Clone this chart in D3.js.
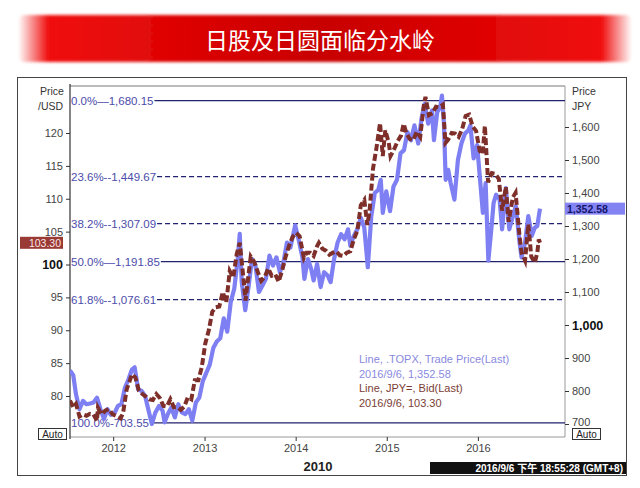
<!DOCTYPE html>
<html>
<head>
<meta charset="utf-8">
<script src="https://cdn.jsdelivr.net/npm/d3@7"></script>
<style>
  body { margin: 0; background: #fff; }
  svg { display: block; font-family: "Liberation Sans", Arial, sans-serif; }
</style>
</head>
<body>
<svg width="640" height="488"></svg>
<script>
const titleText = "日股及日圆面临分水岭";

// TOPIX (right axis, JPY)
const topix = [
  ["2011-07-12", 862], ["2011-07-25", 848], ["2011-08-05", 790], ["2011-08-19", 745],
  ["2011-09-02", 770], ["2011-09-16", 760], ["2011-09-30", 762], ["2011-10-14", 765],
  ["2011-10-28", 780], ["2011-11-11", 745], ["2011-11-25", 715], ["2011-12-09", 745],
  ["2011-12-22", 728], ["2012-01-06", 732], ["2012-01-20", 755], ["2012-02-03", 760],
  ["2012-02-17", 810], ["2012-03-02", 835], ["2012-03-16", 865], ["2012-03-27", 872],
  ["2012-04-10", 805], ["2012-04-24", 800], ["2012-05-08", 785], ["2012-05-22", 740],
  ["2012-06-04", 700], ["2012-06-18", 735], ["2012-07-03", 755], ["2012-07-17", 740],
  ["2012-07-25", 705], ["2012-08-07", 730], ["2012-08-21", 750], ["2012-09-04", 720],
  ["2012-09-18", 760], ["2012-10-02", 735], ["2012-10-16", 730], ["2012-10-30", 745],
  ["2012-11-13", 710], ["2012-11-27", 765], ["2012-12-11", 780], ["2012-12-25", 830],
  ["2013-01-08", 855], ["2013-01-22", 880], ["2013-02-05", 930], ["2013-02-19", 950],
  ["2013-03-05", 960], ["2013-03-19", 1020], ["2013-04-02", 980], ["2013-04-16", 1070],
  ["2013-04-30", 1110], ["2013-05-14", 1200], ["2013-05-22", 1276], ["2013-05-30", 1130],
  ["2013-06-13", 1045], ["2013-06-27", 1120], ["2013-07-10", 1200], ["2013-07-24", 1180],
  ["2013-08-07", 1100], ["2013-08-21", 1120], ["2013-09-04", 1140], ["2013-09-18", 1210],
  ["2013-10-02", 1180], ["2013-10-16", 1205], ["2013-10-30", 1160], ["2013-11-13", 1190],
  ["2013-11-27", 1250], ["2013-12-11", 1235], ["2013-12-30", 1302], ["2014-01-14", 1255],
  ["2014-01-28", 1205], ["2014-02-05", 1140], ["2014-02-19", 1200], ["2014-03-04", 1170],
  ["2014-03-14", 1135], ["2014-03-28", 1185], ["2014-04-11", 1115], ["2014-04-25", 1160],
  ["2014-05-09", 1150], ["2014-05-21", 1130], ["2014-06-04", 1200], ["2014-06-18", 1250],
  ["2014-07-02", 1275], ["2014-07-16", 1260], ["2014-07-30", 1290], ["2014-08-08", 1240],
  ["2014-08-22", 1270], ["2014-09-05", 1290], ["2014-09-19", 1325], ["2014-10-03", 1295],
  ["2014-10-17", 1175], ["2014-10-31", 1330], ["2014-11-14", 1400], ["2014-11-28", 1410],
  ["2014-12-08", 1440], ["2014-12-16", 1340], ["2014-12-30", 1405], ["2015-01-14", 1345],
  ["2015-01-28", 1420], ["2015-02-11", 1440], ["2015-02-25", 1520], ["2015-03-11", 1530],
  ["2015-03-25", 1585], ["2015-04-08", 1560], ["2015-04-22", 1605], ["2015-05-07", 1550],
  ["2015-05-21", 1630], ["2015-06-02", 1670], ["2015-06-16", 1610], ["2015-07-01", 1650],
  ["2015-07-09", 1560], ["2015-07-22", 1645], ["2015-08-03", 1660], ["2015-08-10", 1695],
  ["2015-08-18", 1610], ["2015-08-25", 1440], ["2015-09-04", 1470], ["2015-09-14", 1430],
  ["2015-09-29", 1380], ["2015-10-13", 1500], ["2015-10-27", 1550], ["2015-11-10", 1580],
  ["2015-11-24", 1590], ["2015-12-02", 1605], ["2015-12-15", 1505], ["2015-12-29", 1545],
  ["2016-01-12", 1420], ["2016-01-21", 1340], ["2016-02-01", 1430], ["2016-02-12", 1195],
  ["2016-02-25", 1300], ["2016-03-04", 1370], ["2016-03-14", 1395], ["2016-03-28", 1380],
  ["2016-04-07", 1290], ["2016-04-22", 1415], ["2016-05-06", 1290], ["2016-05-20", 1330],
  ["2016-06-01", 1360], ["2016-06-16", 1250], ["2016-06-24", 1205], ["2016-07-08", 1250],
  ["2016-07-21", 1330], ["2016-08-04", 1270], ["2016-08-16", 1295], ["2016-08-26", 1300],
  ["2016-09-02", 1335], ["2016-09-06", 1352.58]
];

// USD/JPY (left axis)
const usdjpy = [
  ["2011-07-12", 79.3], ["2011-07-25", 78.3], ["2011-08-05", 78.8], ["2011-08-19", 76.9],
  ["2011-09-02", 77.2], ["2011-09-16", 77.0], ["2011-09-30", 77.3], ["2011-10-14", 77.2],
  ["2011-10-28", 76.2], ["2011-11-01", 78.2], ["2011-11-15", 77.2], ["2011-12-01", 77.8],
  ["2011-12-15", 78.0], ["2011-12-30", 77.2], ["2012-01-13", 77.0], ["2012-01-31", 76.6],
  ["2012-02-10", 77.5], ["2012-02-24", 81.0], ["2012-03-09", 82.5], ["2012-03-16", 83.3],
  ["2012-03-30", 82.8], ["2012-04-13", 80.8], ["2012-04-27", 80.3], ["2012-05-11", 79.9],
  ["2012-05-25", 79.5], ["2012-06-08", 79.4], ["2012-06-22", 80.3], ["2012-07-06", 79.7],
  ["2012-07-20", 78.5], ["2012-08-03", 78.4], ["2012-08-17", 79.5], ["2012-08-31", 78.3],
  ["2012-09-14", 78.3], ["2012-09-28", 77.9], ["2012-10-12", 78.4], ["2012-10-26", 79.8],
  ["2012-11-09", 79.5], ["2012-11-23", 82.4], ["2012-12-07", 82.4], ["2012-12-21", 84.4],
  ["2013-01-04", 88.0], ["2013-01-18", 90.0], ["2013-02-01", 92.8], ["2013-02-15", 93.5],
  ["2013-03-01", 93.6], ["2013-03-15", 95.8], ["2013-03-29", 94.2], ["2013-04-12", 99.0],
  ["2013-04-26", 98.0], ["2013-05-10", 101.6], ["2013-05-22", 103.3], ["2013-06-07", 97.5],
  ["2013-06-14", 94.5], ["2013-06-28", 99.0], ["2013-07-05", 101.2], ["2013-07-19", 100.4],
  ["2013-08-02", 98.9], ["2013-08-16", 97.5], ["2013-08-30", 98.1], ["2013-09-13", 99.4],
  ["2013-09-27", 98.3], ["2013-10-11", 98.5], ["2013-10-25", 97.4], ["2013-11-08", 99.1],
  ["2013-11-22", 101.2], ["2013-12-06", 102.9], ["2013-12-20", 104.2], ["2014-01-03", 104.8],
  ["2014-01-17", 104.3], ["2014-02-03", 101.0], ["2014-02-14", 101.8], ["2014-02-28", 101.8],
  ["2014-03-14", 101.3], ["2014-03-28", 102.8], ["2014-04-04", 103.3], ["2014-04-18", 102.4],
  ["2014-05-02", 102.1], ["2014-05-16", 101.5], ["2014-05-30", 101.8], ["2014-06-13", 102.0],
  ["2014-06-27", 101.4], ["2014-07-11", 101.3], ["2014-07-25", 101.8], ["2014-08-08", 102.0],
  ["2014-08-22", 103.8], ["2014-09-05", 105.1], ["2014-09-19", 109.0], ["2014-10-03", 109.8],
  ["2014-10-15", 106.0], ["2014-10-24", 108.1], ["2014-11-07", 114.6], ["2014-11-21", 117.8],
  ["2014-12-05", 121.5], ["2014-12-16", 116.5], ["2014-12-26", 120.4], ["2015-01-09", 118.5],
  ["2015-01-16", 116.5], ["2015-01-30", 117.5], ["2015-02-13", 118.7], ["2015-02-27", 119.6],
  ["2015-03-10", 121.4], ["2015-03-20", 120.0], ["2015-04-03", 119.1], ["2015-04-17", 118.9],
  ["2015-05-01", 120.2], ["2015-05-15", 119.4], ["2015-05-29", 124.1], ["2015-06-05", 125.5],
  ["2015-06-19", 122.7], ["2015-07-03", 123.0], ["2015-07-17", 124.0], ["2015-07-31", 123.9],
  ["2015-08-14", 124.3], ["2015-08-24", 118.5], ["2015-09-04", 119.0], ["2015-09-18", 120.0],
  ["2015-10-02", 119.9], ["2015-10-16", 119.4], ["2015-10-30", 120.6], ["2015-11-13", 122.6],
  ["2015-11-27", 122.8], ["2015-12-11", 121.0], ["2015-12-25", 120.3], ["2016-01-08", 117.3],
  ["2016-01-20", 116.8], ["2016-01-29", 121.1], ["2016-02-11", 112.5], ["2016-02-26", 113.9],
  ["2016-03-11", 113.8], ["2016-03-25", 113.0], ["2016-04-07", 108.2], ["2016-04-22", 111.8],
  ["2016-05-03", 106.5], ["2016-05-20", 110.2], ["2016-05-31", 110.9], ["2016-06-16", 104.3],
  ["2016-06-24", 101.8], ["2016-07-08", 100.6], ["2016-07-21", 106.1], ["2016-08-02", 101.2],
  ["2016-08-16", 100.3], ["2016-08-26", 101.8], ["2016-09-01", 103.8], ["2016-09-06", 103.3]
];

// Fibonacci retracement levels (right axis)
const fibPct = ["0.0%", "23.6%", "38.2%", "50.0%", "61.8%", "100.0%"];
const fibValues = [1680.15, 1449.67, 1307.09, 1191.85, 1076.61, 703.55];
const fibSep = ["—", "--", "--", "—", "--", "-"];
const fibDashed = [false, true, true, false, true, false];

const leftTicks = [80, 85, 90, 95, 100, 105, 110, 115, 120];
const rightTicks = [700, 800, 900, 1000, 1100, 1200, 1300, 1400, 1500, 1600];
const yearTicks = ["2012", "2013", "2014", "2015", "2016"];

const legendLines = [
  "Line, .TOPX, Trade Price(Last)",
  "2016/9/6, 1,352.58",
  "Line, JPY=, Bid(Last)",
  "2016/9/6, 103.30"
];
const lastTopix = "1,352.58";
const lastUsd = "103.30";
const stamp = "2016/9/6 下午 18:55:28 (GMT+8)";

const svg = d3.select("svg");
const parse = d3.timeParse("%Y-%m-%d");

const blue = "#7e7ff2", red = "#7e2f2a", navy = "#22226e", fibText = "#4c4caa";

// title bar
const defs = svg.append("defs");
const grad = defs.append("linearGradient").attr("id", "bar");
grad.append("stop").attr("offset", "0%").attr("stop-color", "#fff");
grad.append("stop").attr("offset", "5%").attr("stop-color", "#f00a0a");
grad.append("stop").attr("offset", "50%").attr("stop-color", "#c80000");
grad.append("stop").attr("offset", "95%").attr("stop-color", "#f00a0a");
grad.append("stop").attr("offset", "100%").attr("stop-color", "#fff");
defs.append("filter").attr("id", "soft")
  .append("feGaussianBlur").attr("stdDeviation", 1.5);

svg.append("rect")
  .attr("x", 18).attr("y", 15).attr("width", 614).attr("height", 47)
  .attr("rx", 6).attr("fill", "url(#bar)").attr("filter", "url(#soft)");

svg.append("text")
  .attr("x", 320).attr("y", 39)
  .attr("text-anchor", "middle").attr("dominant-baseline", "central")
  .style("font-family", "'Noto Sans CJK SC', sans-serif")
  .style("font-size", "23px").attr("fill", "#fff")
  .text(titleText);

// chart frame
svg.append("rect")
  .attr("x", 17.5).attr("y", 77.5).attr("width", 609).attr("height", 398)
  .attr("fill", "#fff").attr("stroke", "#444").attr("stroke-width", 1);

const plot = {left: 70, right: 565, top: 86, bottom: 437};

const x = d3.scaleTime()
  .domain([new Date(2011, 6, 12), new Date(2016, 11, 15)])
  .range([plot.left, plot.right]);
const yL = d3.scaleLinear().domain([80, 120]).range([396, 133]);
const yR = d3.scaleLinear().domain([700, 1600]).range([424, 127]);

// plot box
svg.append("line").attr("x1", plot.left).attr("x2", plot.right)
  .attr("y1", plot.top).attr("y2", plot.top)
  .attr("stroke", "#bbb").attr("stroke-width", 2);
svg.append("line").attr("x1", plot.left).attr("x2", plot.right)
  .attr("y1", plot.bottom).attr("y2", plot.bottom)
  .attr("stroke", "#999").attr("stroke-width", 1);
svg.append("line").attr("x1", plot.right).attr("x2", plot.right)
  .attr("y1", plot.top).attr("y2", plot.bottom)
  .attr("stroke", "#999").attr("stroke-width", 1);
svg.append("line").attr("x1", plot.left).attr("x2", plot.left)
  .attr("y1", plot.top - 2).attr("y2", plot.bottom + 2)
  .attr("stroke", "#333").attr("stroke-width", 1.2);

// fib levels
const fibG = svg.append("g");
fibValues.forEach((v, i) => {
  const yy = yR(v);
  const t = fibG.append("text")
    .attr("x", plot.left + 1).attr("y", yy)
    .attr("dominant-baseline", "central")
    .style("font-size", "11.5px").attr("fill", fibText)
    .text(fibPct[i] + fibSep[i] + d3.format(",.2f")(v));
  const end = plot.left + 1 + t.node().getComputedTextLength();
  fibG.append("line")
    .attr("x1", end + 1).attr("x2", plot.right)
    .attr("y1", yy).attr("y2", yy)
    .attr("stroke", navy).attr("stroke-width", 1.3)
    .attr("stroke-dasharray", fibDashed[i] ? "5,3" : null);
});

// lines
defs.append("clipPath").attr("id", "clip").append("rect")
  .attr("x", plot.left).attr("y", plot.top)
  .attr("width", plot.right - plot.left).attr("height", plot.bottom - plot.top);

const lineR = d3.line().x(d => x(parse(d[0]))).y(d => yR(d[1]));
const lineL = d3.line().x(d => x(parse(d[0]))).y(d => yL(d[1]));

svg.append("path").datum(topix)
  .attr("clip-path", "url(#clip)")
  .attr("d", lineR).attr("fill", "none")
  .attr("stroke", blue).attr("stroke-width", 4.2)
  .attr("stroke-linejoin", "round");

svg.append("path").datum(usdjpy)
  .attr("clip-path", "url(#clip)")
  .attr("d", lineL).attr("fill", "none")
  .attr("stroke", red).attr("stroke-width", 4)
  .attr("stroke-dasharray", "7,3");

// left axis
const gL = svg.append("g")
  .attr("transform", `translate(${plot.left},0)`)
  .call(d3.axisLeft(yL).tickValues(leftTicks).tickSize(4).tickPadding(3));
gL.select(".domain").remove();
gL.selectAll(".tick line").attr("stroke", "#333");
gL.selectAll(".tick text")
  .style("font-family", "'Liberation Sans', Arial, sans-serif")
  .style("font-size", d => d === 100 ? "12.5px" : "11px")
  .style("font-weight", d => d === 100 ? "bold" : "normal")
  .attr("fill", d => d === 100 ? "#111" : "#444");

// right axis
const gR = svg.append("g")
  .attr("transform", `translate(${plot.right},0)`)
  .call(d3.axisRight(yR).tickValues(rightTicks).tickSize(4).tickPadding(3).tickFormat(d3.format(",")));
gR.select(".domain").remove();
gR.selectAll(".tick line").attr("stroke", "#333");
gR.selectAll(".tick text")
  .style("font-family", "'Liberation Sans', Arial, sans-serif")
  .style("font-size", d => d === 1000 ? "12.5px" : "11px")
  .style("font-weight", d => d === 1000 ? "bold" : "normal")
  .attr("fill", d => d === 1000 ? "#111" : "#444");
gR.selectAll(".tick").filter(d => d === 700).select("text").attr("dy", "0.1em");

// bottom axis
const gX = svg.append("g")
  .attr("transform", `translate(0,${plot.bottom})`)
  .call(d3.axisBottom(x)
    .tickValues(yearTicks.map(s => new Date(+s, 0, 1)))
    .tickSize(4).tickPadding(3)
    .tickFormat(d3.timeFormat("%Y")));
gX.select(".domain").remove();
gX.selectAll(".tick line").attr("stroke", "#333");
gX.selectAll(".tick text")
  .style("font-family", "'Liberation Sans', Arial, sans-serif")
  .style("font-size", "11px").attr("fill", "#444");

svg.append("text").attr("x", 318).attr("y", 466)
  .attr("text-anchor", "middle").attr("dominant-baseline", "central")
  .style("font-size", "13px").style("font-weight", "bold").attr("fill", "#222")
  .text("2010");

// axis captions
const cap = [["Price", 40, 91], ["/USD", 38, 106], ["Price", 572, 91], ["JPY", 572, 106]];
cap.forEach(c => svg.append("text").attr("x", c[1]).attr("y", c[2])
  .attr("dominant-baseline", "central")
  .style("font-size", "10.5px").attr("fill", "#333").text(c[0]));

// Auto boxes
[[38, 428], [572, 428]].forEach(p => {
  svg.append("rect").attr("x", p[0] + 0.5).attr("y", p[1] + 0.5)
    .attr("width", 28).attr("height", 11)
    .attr("fill", "#fff").attr("stroke", "#333");
  svg.append("text").attr("x", p[0] + 14.5).attr("y", p[1] + 6.5)
    .attr("text-anchor", "middle").attr("dominant-baseline", "central")
    .style("font-size", "10px").attr("fill", "#222").text("Auto");
});

// last value labels
const yUsd = yL(+lastUsd);
svg.append("rect").attr("x", 20).attr("y", yUsd - 6).attr("width", 43).attr("height", 12)
  .attr("fill", "#9a3a34");
svg.append("text").attr("x", 61).attr("y", yUsd)
  .attr("text-anchor", "end").attr("dominant-baseline", "central")
  .style("font-size", "10.5px").attr("fill", "#fbe8e8").text(lastUsd);

const yTop = yR(1352.58);
svg.append("rect").attr("x", plot.right).attr("y", yTop - 6).attr("width", 60).attr("height", 12)
  .attr("fill", "#8383f3");
svg.append("text").attr("x", plot.right + 2).attr("y", yTop)
  .attr("dominant-baseline", "central")
  .style("font-size", "10.5px").style("font-weight", "bold").attr("fill", "#15156a").text(lastTopix);

// legend
legendLines.forEach((s, i) => {
  svg.append("text").attr("x", 359).attr("y", 359 + i * 14.7)
    .attr("dominant-baseline", "central")
    .style("font-size", "11px")
    .attr("fill", i < 2 ? "#8a8ae0" : "#7a3d35")
    .text(s);
});

// timestamp
svg.append("rect").attr("x", 430).attr("y", 462).attr("width", 196).attr("height", 12)
  .attr("fill", "#111");
svg.append("text").attr("x", 623).attr("y", 468.5)
  .attr("text-anchor", "end").attr("dominant-baseline", "central")
  .style("font-family", "'Liberation Sans', 'Noto Sans CJK SC', sans-serif")
  .style("font-size", "10px").style("font-weight", "bold").attr("fill", "#fff")
  .text(stamp);
</script>
</body>
</html>
